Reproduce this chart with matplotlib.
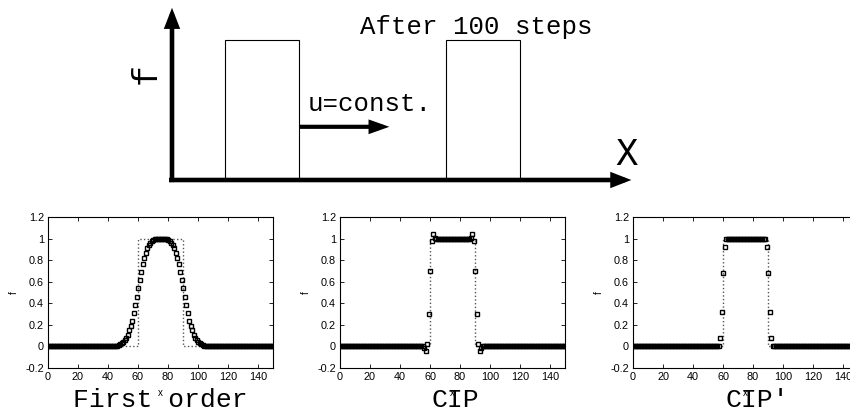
import numpy as np
import matplotlib.pyplot as plt
from matplotlib.patches import Rectangle, FancyArrowPatch

# numerical profiles after 100 steps, one value per grid point x = 0..150
x_grid = np.arange(0, 151)

first_order = ([0.0] * 45 +
               [0.002, 0.005, 0.01, 0.02, 0.03, 0.04, 0.06, 0.08, 0.11, 0.15,
                0.19, 0.24, 0.31, 0.38, 0.46, 0.54, 0.62, 0.69, 0.76, 0.82,
                0.87, 0.91, 0.94, 0.96, 0.975, 0.985, 0.992, 0.996, 0.998, 0.999,
                1.0,
                0.999, 0.998, 0.996, 0.992, 0.985, 0.975, 0.96, 0.94, 0.91, 0.87,
                0.82, 0.76, 0.69, 0.62, 0.54, 0.46, 0.38, 0.31, 0.24, 0.19,
                0.15, 0.11, 0.08, 0.06, 0.04, 0.03, 0.02, 0.01, 0.005, 0.002] +
               [0.0] * 45)

cip = ([0.0] * 56 +
       [-0.01, -0.045, 0.02, 0.3, 0.7, 0.98, 1.04, 1.005] +
       [1.0] * 23 +
       [1.005, 1.04, 0.98, 0.7, 0.3, 0.02, -0.045, -0.01] +
       [0.0] * 56)

cip_prime = ([0.0] * 57 +
             [0.005, 0.075, 0.32, 0.68, 0.925, 0.995] +
             [1.0] * 25 +
             [0.995, 0.925, 0.68, 0.32, 0.075, 0.005] +
             [0.0] * 57)

# exact solution (square pulse)
exact_x = [0, 60, 60, 90, 90, 150]
exact_f = [0, 0, 1, 1, 0, 0]

series = [first_order, cip, cip_prime]
panel_titles = ['First order', 'CIP', 'CIP\u2032']
title_centers = [160.5, 455, 757]   # px
panel_lefts = [48, 340, 633]        # px

xticks = [0, 20, 40, 60, 80, 100, 120, 140]
yticks = [-0.2, 0, 0.2, 0.4, 0.6, 0.8, 1, 1.2]
ytick_labels = ['-0.2', '0', '0.2', '0.4', '0.6', '0.8', '1', '1.2']

# schematic at the top
pulse_starts = [21.5, 111]
pulse_width = 30
pulse_height = 1.0
velocity_y = 0.38
velocity_end = 88

W, H = 850, 417
fig = plt.figure(figsize=(W / 100, H / 100), dpi=100)
mono = ['Liberation Mono', 'DejaVu Sans Mono']

# --- top diagram ---
ax0 = fig.add_axes([122.6 / W, 216 / H, 531 / W, 203 / H])
ax0.set_xlim(-20, 195)
ax0.set_ylim(-0.15, 1.3)
ax0.axis('off')

for start in pulse_starts:
    ax0.add_patch(Rectangle((start, 0), pulse_width, pulse_height,
                            fill=False, ec='black', lw=0.8))


def thick_arrow(ax, p0, p1, lw=3.3, hl=9, hw=3.5):
    arr = FancyArrowPatch(p0, p1, arrowstyle=f'-|>,head_length={hl},head_width={hw}',
                          mutation_scale=1, lw=lw, color='black',
                          shrinkA=0, shrinkB=0, joinstyle='miter', capstyle='butt')
    ax.add_patch(arr)


thick_arrow(ax0, (-1.2, 0), (186, 0))
thick_arrow(ax0, (0, -0.015), (0, 1.23))
thick_arrow(ax0, (pulse_starts[0] + pulse_width, velocity_y), (velocity_end, velocity_y),
            lw=3.0, hl=9, hw=3.2)

ax0.text(55, 0.49, 'u=const.', family=mono, fontsize=18.5, va='baseline', ha='left')
ax0.text(76, 1.045, 'After 100 steps', family=mono, fontsize=18.5, va='baseline', ha='left')
ax0.text(184, 0.18, 'X', family=mono, fontsize=27, va='center', ha='center')
ax0.text(-10.5, 0.76, 'f', family=mono, fontsize=25, va='center', ha='center', rotation=90)

# --- three result panels ---
for vals, title, tc, left in zip(series, panel_titles, title_centers, panel_lefts):
    ax = fig.add_axes([left / W, 49 / H, 225 / W, 151 / H])
    ax.plot(exact_x, exact_f, color='#555555', ls=':', lw=1.0)
    ax.plot(x_grid, vals, ls='none', marker='s', ms=2.5, mfc='none',
            mec='black', mew=1.0)
    ax.set_xlim(0, 150)
    ax.set_ylim(-0.2, 1.2)
    ax.set_xticks(xticks)
    ax.set_yticks(yticks)
    ax.set_yticklabels(ytick_labels)
    ax.tick_params(direction='in', top=True, right=True, length=3, width=0.6,
                   labelsize=7.8, pad=3)
    for lab in ax.get_xticklabels() + ax.get_yticklabels():
        lab.set_family('Liberation Sans')
    for sp in ax.spines.values():
        sp.set_linewidth(0.8)
    ax.set_xlabel('x', fontsize=7, family='Liberation Sans')
    ax.set_ylabel('f', fontsize=7, family='Liberation Sans')
    ax.xaxis.set_label_coords(0.5, -0.13)
    ax.yaxis.set_label_coords(-0.13, 0.5)
    fig.text(tc / W, 17 / H, title, family=mono, fontsize=19, ha='center', va='center')

fig.savefig('out.png', dpi=100)
